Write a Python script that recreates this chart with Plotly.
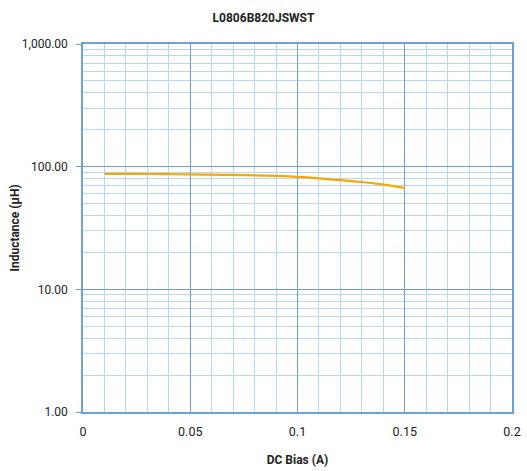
import plotly.graph_objects as go

bias = [0.01, 0.02, 0.03, 0.04, 0.05, 0.06, 0.07, 0.08, 0.09, 0.10, 0.11, 0.12, 0.13, 0.14, 0.15]
inductance = [87.5, 87.3, 87.1, 86.8, 86.5, 86.0, 85.6, 85.0, 84.0, 82.5, 80.3, 77.6, 75.0, 71.5, 67.0]

y_ticks = [1, 10, 100, 1000]
y_labels = ["1.00", "10.00", "100.00", "1,000.00"]
x_ticks = [0, 0.05, 0.1, 0.15, 0.2]
x_labels = ["0", "0.05", "0.1", "0.15", "0.2"]

major = "#6f9fd5"
minor = "#b8d6f1"

y_minor = [m * 10 ** e for e in range(0, 3) for m in range(2, 10)]
x_minor = [i / 100 for i in range(0, 21) if i % 5 != 0]

fig = go.Figure()
fig.add_trace(go.Scatter(x=bias, y=inductance, mode="lines",
                         line=dict(color="#f2aa00", width=2.2, shape="spline"),
                         showlegend=False, hoverinfo="skip"))

fig.update_layout(
    width=527, height=471,
    margin=dict(l=83, r=15, t=44, b=59, autoexpand=False),
    paper_bgcolor="white", plot_bgcolor="white",
    hovermode=False,
    font=dict(family="Roboto", size=12, color="#222222"),
    title=dict(text="<b>L0806B820JSWST</b>", x=0.5, xanchor="center",
               y=1 - 17.5 / 471, yanchor="middle", font=dict(size=12, color="#222222")),
    xaxis=dict(range=[0, 0.2], tickvals=x_ticks, ticktext=x_labels, automargin=False,
               showgrid=True, gridcolor=major, gridwidth=1,
               minor=dict(tickvals=x_minor, showgrid=True, gridcolor=minor, gridwidth=1),
               showline=True, linecolor=major, linewidth=1.5, mirror=True,
               ticks="", zeroline=False, tickfont=dict(size=12.5), ticklabelstandoff=7,
               showspikes=False,
               title=dict(text="<b>DC Bias (A)</b>", font=dict(size=12), standoff=18)),
    yaxis=dict(type="log", range=[0, 3], tickvals=y_ticks, ticktext=y_labels, automargin=False,
               showgrid=True, gridcolor=major, gridwidth=1,
               minor=dict(tickvals=y_minor, showgrid=True, gridcolor=minor, gridwidth=1),
               showline=True, linecolor=major, linewidth=1.5, mirror=True,
               ticks="outside", ticklen=5, tickcolor=major, zeroline=False, tickfont=dict(size=12),
               ticklabelstandoff=6, showspikes=False,
               title=dict(text="<b>Inductance (µH)</b>", font=dict(size=12), standoff=0)),
)

fig.write_html("out.html", config={"displayModeBar": False},
               post_script="document.body.style.margin='0';")
